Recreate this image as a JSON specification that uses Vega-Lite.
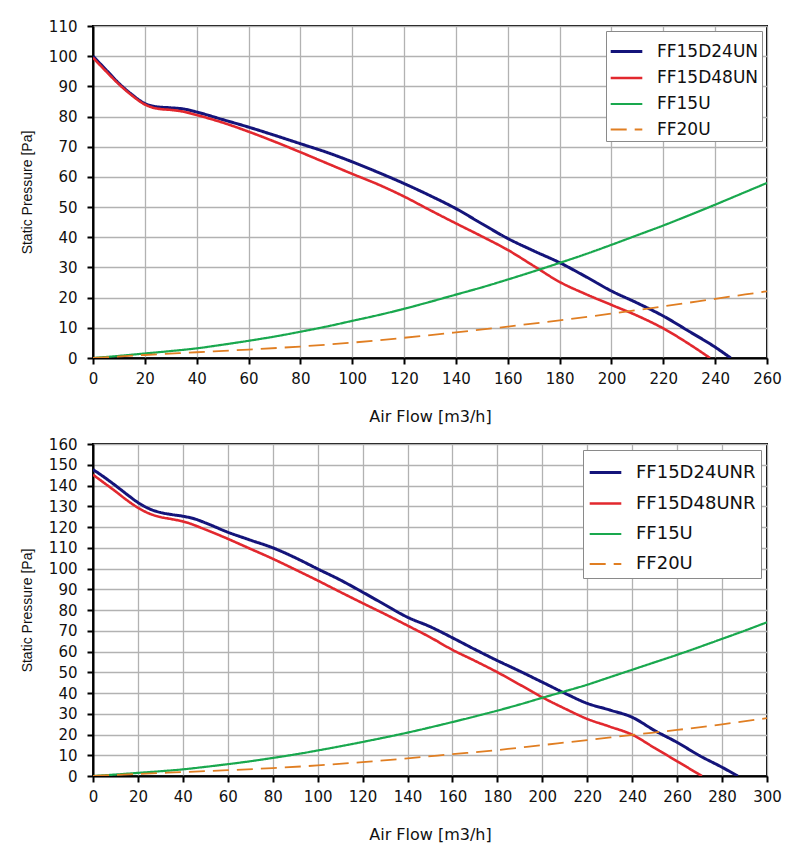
{
  "$schema": "https://vega.github.io/schema/vega-lite/v6.json",
  "background": "white",
  "padding": {"left": 19, "top": 18, "right": 0, "bottom": 0},
  "autosize": {"type": "pad"},
  "spacing": 11,
  "datasets": {
    "top": [
      {"flow": 0, "pressure": 100, "series": "FF15D24UN"},
      {"flow": 5, "pressure": 95.5, "series": "FF15D24UN"},
      {"flow": 10, "pressure": 91, "series": "FF15D24UN"},
      {"flow": 15, "pressure": 87.3, "series": "FF15D24UN"},
      {"flow": 20, "pressure": 84.3, "series": "FF15D24UN"},
      {"flow": 25, "pressure": 83.2, "series": "FF15D24UN"},
      {"flow": 30, "pressure": 82.9, "series": "FF15D24UN"},
      {"flow": 35, "pressure": 82.5, "series": "FF15D24UN"},
      {"flow": 40, "pressure": 81.5, "series": "FF15D24UN"},
      {"flow": 50, "pressure": 79, "series": "FF15D24UN"},
      {"flow": 60, "pressure": 76.5, "series": "FF15D24UN"},
      {"flow": 70, "pressure": 73.8, "series": "FF15D24UN"},
      {"flow": 80, "pressure": 71, "series": "FF15D24UN"},
      {"flow": 90, "pressure": 68.2, "series": "FF15D24UN"},
      {"flow": 100, "pressure": 65, "series": "FF15D24UN"},
      {"flow": 110, "pressure": 61.5, "series": "FF15D24UN"},
      {"flow": 120, "pressure": 57.8, "series": "FF15D24UN"},
      {"flow": 130, "pressure": 53.8, "series": "FF15D24UN"},
      {"flow": 140, "pressure": 49.5, "series": "FF15D24UN"},
      {"flow": 150, "pressure": 44.5, "series": "FF15D24UN"},
      {"flow": 160, "pressure": 39.6, "series": "FF15D24UN"},
      {"flow": 170, "pressure": 35.5, "series": "FF15D24UN"},
      {"flow": 180, "pressure": 31.6, "series": "FF15D24UN"},
      {"flow": 190, "pressure": 27, "series": "FF15D24UN"},
      {"flow": 200, "pressure": 22.2, "series": "FF15D24UN"},
      {"flow": 210, "pressure": 18.2, "series": "FF15D24UN"},
      {"flow": 220, "pressure": 13.9, "series": "FF15D24UN"},
      {"flow": 230, "pressure": 8.8, "series": "FF15D24UN"},
      {"flow": 240, "pressure": 3.6, "series": "FF15D24UN"},
      {"flow": 246, "pressure": 0, "series": "FF15D24UN"},
      {"flow": 0, "pressure": 99.5, "series": "FF15D48UN"},
      {"flow": 5, "pressure": 95, "series": "FF15D48UN"},
      {"flow": 10, "pressure": 90.7, "series": "FF15D48UN"},
      {"flow": 15, "pressure": 87, "series": "FF15D48UN"},
      {"flow": 20, "pressure": 84, "series": "FF15D48UN"},
      {"flow": 25, "pressure": 82.6, "series": "FF15D48UN"},
      {"flow": 30, "pressure": 82.2, "series": "FF15D48UN"},
      {"flow": 35, "pressure": 81.6, "series": "FF15D48UN"},
      {"flow": 40, "pressure": 80.5, "series": "FF15D48UN"},
      {"flow": 50, "pressure": 78, "series": "FF15D48UN"},
      {"flow": 60, "pressure": 75, "series": "FF15D48UN"},
      {"flow": 70, "pressure": 71.7, "series": "FF15D48UN"},
      {"flow": 80, "pressure": 68.2, "series": "FF15D48UN"},
      {"flow": 90, "pressure": 64.6, "series": "FF15D48UN"},
      {"flow": 100, "pressure": 61, "series": "FF15D48UN"},
      {"flow": 110, "pressure": 57.5, "series": "FF15D48UN"},
      {"flow": 120, "pressure": 53.5, "series": "FF15D48UN"},
      {"flow": 130, "pressure": 49, "series": "FF15D48UN"},
      {"flow": 140, "pressure": 44.6, "series": "FF15D48UN"},
      {"flow": 150, "pressure": 40.3, "series": "FF15D48UN"},
      {"flow": 160, "pressure": 35.8, "series": "FF15D48UN"},
      {"flow": 170, "pressure": 30.5, "series": "FF15D48UN"},
      {"flow": 180, "pressure": 25.2, "series": "FF15D48UN"},
      {"flow": 190, "pressure": 21.2, "series": "FF15D48UN"},
      {"flow": 200, "pressure": 17.6, "series": "FF15D48UN"},
      {"flow": 210, "pressure": 14, "series": "FF15D48UN"},
      {"flow": 220, "pressure": 9.8, "series": "FF15D48UN"},
      {"flow": 230, "pressure": 4.6, "series": "FF15D48UN"},
      {"flow": 238, "pressure": 0, "series": "FF15D48UN"},
      {"flow": 0, "pressure": 0, "series": "FF15U"},
      {"flow": 10, "pressure": 0.7, "series": "FF15U"},
      {"flow": 20, "pressure": 1.5, "series": "FF15U"},
      {"flow": 30, "pressure": 2.3, "series": "FF15U"},
      {"flow": 40, "pressure": 3.2, "series": "FF15U"},
      {"flow": 50, "pressure": 4.4, "series": "FF15U"},
      {"flow": 60, "pressure": 5.7, "series": "FF15U"},
      {"flow": 70, "pressure": 7.1, "series": "FF15U"},
      {"flow": 80, "pressure": 8.7, "series": "FF15U"},
      {"flow": 90, "pressure": 10.4, "series": "FF15U"},
      {"flow": 100, "pressure": 12.3, "series": "FF15U"},
      {"flow": 110, "pressure": 14.2, "series": "FF15U"},
      {"flow": 120, "pressure": 16.3, "series": "FF15U"},
      {"flow": 130, "pressure": 18.6, "series": "FF15U"},
      {"flow": 140, "pressure": 21, "series": "FF15U"},
      {"flow": 150, "pressure": 23.4, "series": "FF15U"},
      {"flow": 160, "pressure": 26, "series": "FF15U"},
      {"flow": 170, "pressure": 28.7, "series": "FF15U"},
      {"flow": 180, "pressure": 31.5, "series": "FF15U"},
      {"flow": 190, "pressure": 34.4, "series": "FF15U"},
      {"flow": 200, "pressure": 37.5, "series": "FF15U"},
      {"flow": 210, "pressure": 40.7, "series": "FF15U"},
      {"flow": 220, "pressure": 43.9, "series": "FF15U"},
      {"flow": 230, "pressure": 47.3, "series": "FF15U"},
      {"flow": 240, "pressure": 50.8, "series": "FF15U"},
      {"flow": 250, "pressure": 54.4, "series": "FF15U"},
      {"flow": 260, "pressure": 58, "series": "FF15U"},
      {"flow": 0, "pressure": 0, "series": "FF20U"},
      {"flow": 20, "pressure": 1, "series": "FF20U"},
      {"flow": 40, "pressure": 1.9, "series": "FF20U"},
      {"flow": 60, "pressure": 2.8, "series": "FF20U"},
      {"flow": 80, "pressure": 3.8, "series": "FF20U"},
      {"flow": 100, "pressure": 5.1, "series": "FF20U"},
      {"flow": 120, "pressure": 6.7, "series": "FF20U"},
      {"flow": 140, "pressure": 8.5, "series": "FF20U"},
      {"flow": 160, "pressure": 10.4, "series": "FF20U"},
      {"flow": 180, "pressure": 12.5, "series": "FF20U"},
      {"flow": 200, "pressure": 14.7, "series": "FF20U"},
      {"flow": 220, "pressure": 17.1, "series": "FF20U"},
      {"flow": 240, "pressure": 19.6, "series": "FF20U"},
      {"flow": 260, "pressure": 22.1, "series": "FF20U"}
    ],
    "bottom": [
      {"flow": 0, "pressure": 147.7, "series": "FF15D24UNR"},
      {"flow": 5, "pressure": 144, "series": "FF15D24UNR"},
      {"flow": 10, "pressure": 140, "series": "FF15D24UNR"},
      {"flow": 15, "pressure": 135.8, "series": "FF15D24UNR"},
      {"flow": 20, "pressure": 131.8, "series": "FF15D24UNR"},
      {"flow": 25, "pressure": 128.8, "series": "FF15D24UNR"},
      {"flow": 30, "pressure": 127, "series": "FF15D24UNR"},
      {"flow": 35, "pressure": 126, "series": "FF15D24UNR"},
      {"flow": 40, "pressure": 125.2, "series": "FF15D24UNR"},
      {"flow": 45, "pressure": 124, "series": "FF15D24UNR"},
      {"flow": 50, "pressure": 122, "series": "FF15D24UNR"},
      {"flow": 60, "pressure": 117.5, "series": "FF15D24UNR"},
      {"flow": 70, "pressure": 113.7, "series": "FF15D24UNR"},
      {"flow": 80, "pressure": 110, "series": "FF15D24UNR"},
      {"flow": 90, "pressure": 105.2, "series": "FF15D24UNR"},
      {"flow": 100, "pressure": 99.8, "series": "FF15D24UNR"},
      {"flow": 110, "pressure": 94.5, "series": "FF15D24UNR"},
      {"flow": 120, "pressure": 88.6, "series": "FF15D24UNR"},
      {"flow": 130, "pressure": 82.5, "series": "FF15D24UNR"},
      {"flow": 140, "pressure": 76.5, "series": "FF15D24UNR"},
      {"flow": 150, "pressure": 72, "series": "FF15D24UNR"},
      {"flow": 160, "pressure": 66.6, "series": "FF15D24UNR"},
      {"flow": 170, "pressure": 61, "series": "FF15D24UNR"},
      {"flow": 180, "pressure": 55.6, "series": "FF15D24UNR"},
      {"flow": 190, "pressure": 50.5, "series": "FF15D24UNR"},
      {"flow": 200, "pressure": 45.2, "series": "FF15D24UNR"},
      {"flow": 210, "pressure": 39.9, "series": "FF15D24UNR"},
      {"flow": 220, "pressure": 35, "series": "FF15D24UNR"},
      {"flow": 230, "pressure": 31.8, "series": "FF15D24UNR"},
      {"flow": 240, "pressure": 28.3, "series": "FF15D24UNR"},
      {"flow": 250, "pressure": 21.9, "series": "FF15D24UNR"},
      {"flow": 260, "pressure": 16.2, "series": "FF15D24UNR"},
      {"flow": 270, "pressure": 9.8, "series": "FF15D24UNR"},
      {"flow": 280, "pressure": 4.2, "series": "FF15D24UNR"},
      {"flow": 287, "pressure": 0, "series": "FF15D24UNR"},
      {"flow": 0, "pressure": 145.2, "series": "FF15D48UNR"},
      {"flow": 5, "pressure": 141.2, "series": "FF15D48UNR"},
      {"flow": 10, "pressure": 137.2, "series": "FF15D48UNR"},
      {"flow": 15, "pressure": 133, "series": "FF15D48UNR"},
      {"flow": 20, "pressure": 129.3, "series": "FF15D48UNR"},
      {"flow": 25, "pressure": 126.5, "series": "FF15D48UNR"},
      {"flow": 30, "pressure": 124.8, "series": "FF15D48UNR"},
      {"flow": 35, "pressure": 123.8, "series": "FF15D48UNR"},
      {"flow": 40, "pressure": 122.7, "series": "FF15D48UNR"},
      {"flow": 50, "pressure": 118.8, "series": "FF15D48UNR"},
      {"flow": 60, "pressure": 114.3, "series": "FF15D48UNR"},
      {"flow": 70, "pressure": 109.5, "series": "FF15D48UNR"},
      {"flow": 80, "pressure": 104.7, "series": "FF15D48UNR"},
      {"flow": 90, "pressure": 99.5, "series": "FF15D48UNR"},
      {"flow": 100, "pressure": 94.2, "series": "FF15D48UNR"},
      {"flow": 110, "pressure": 88.7, "series": "FF15D48UNR"},
      {"flow": 120, "pressure": 83.3, "series": "FF15D48UNR"},
      {"flow": 130, "pressure": 78, "series": "FF15D48UNR"},
      {"flow": 140, "pressure": 72.5, "series": "FF15D48UNR"},
      {"flow": 150, "pressure": 66.9, "series": "FF15D48UNR"},
      {"flow": 160, "pressure": 60.8, "series": "FF15D48UNR"},
      {"flow": 170, "pressure": 55.5, "series": "FF15D48UNR"},
      {"flow": 180, "pressure": 50, "series": "FF15D48UNR"},
      {"flow": 190, "pressure": 44, "series": "FF15D48UNR"},
      {"flow": 200, "pressure": 37.9, "series": "FF15D48UNR"},
      {"flow": 210, "pressure": 32.5, "series": "FF15D48UNR"},
      {"flow": 220, "pressure": 27.5, "series": "FF15D48UNR"},
      {"flow": 230, "pressure": 23.8, "series": "FF15D48UNR"},
      {"flow": 240, "pressure": 19.9, "series": "FF15D48UNR"},
      {"flow": 250, "pressure": 13.5, "series": "FF15D48UNR"},
      {"flow": 260, "pressure": 7.1, "series": "FF15D48UNR"},
      {"flow": 271, "pressure": 0, "series": "FF15D48UNR"},
      {"flow": 0, "pressure": 0, "series": "FF15U"},
      {"flow": 10, "pressure": 0.7, "series": "FF15U"},
      {"flow": 20, "pressure": 1.5, "series": "FF15U"},
      {"flow": 30, "pressure": 2.3, "series": "FF15U"},
      {"flow": 40, "pressure": 3.2, "series": "FF15U"},
      {"flow": 50, "pressure": 4.4, "series": "FF15U"},
      {"flow": 60, "pressure": 5.7, "series": "FF15U"},
      {"flow": 70, "pressure": 7.1, "series": "FF15U"},
      {"flow": 80, "pressure": 8.7, "series": "FF15U"},
      {"flow": 90, "pressure": 10.4, "series": "FF15U"},
      {"flow": 100, "pressure": 12.3, "series": "FF15U"},
      {"flow": 110, "pressure": 14.3, "series": "FF15U"},
      {"flow": 120, "pressure": 16.4, "series": "FF15U"},
      {"flow": 130, "pressure": 18.6, "series": "FF15U"},
      {"flow": 140, "pressure": 20.9, "series": "FF15U"},
      {"flow": 150, "pressure": 23.4, "series": "FF15U"},
      {"flow": 160, "pressure": 26, "series": "FF15U"},
      {"flow": 170, "pressure": 28.7, "series": "FF15U"},
      {"flow": 180, "pressure": 31.5, "series": "FF15U"},
      {"flow": 190, "pressure": 34.5, "series": "FF15U"},
      {"flow": 200, "pressure": 37.7, "series": "FF15U"},
      {"flow": 210, "pressure": 40.8, "series": "FF15U"},
      {"flow": 220, "pressure": 44, "series": "FF15U"},
      {"flow": 230, "pressure": 47.6, "series": "FF15U"},
      {"flow": 240, "pressure": 51.2, "series": "FF15U"},
      {"flow": 250, "pressure": 54.8, "series": "FF15U"},
      {"flow": 260, "pressure": 58.4, "series": "FF15U"},
      {"flow": 270, "pressure": 62.2, "series": "FF15U"},
      {"flow": 280, "pressure": 66.1, "series": "FF15U"},
      {"flow": 290, "pressure": 70, "series": "FF15U"},
      {"flow": 300, "pressure": 74.1, "series": "FF15U"},
      {"flow": 0, "pressure": 0, "series": "FF20U"},
      {"flow": 20, "pressure": 1, "series": "FF20U"},
      {"flow": 40, "pressure": 1.9, "series": "FF20U"},
      {"flow": 60, "pressure": 2.8, "series": "FF20U"},
      {"flow": 80, "pressure": 3.8, "series": "FF20U"},
      {"flow": 100, "pressure": 5.1, "series": "FF20U"},
      {"flow": 120, "pressure": 6.7, "series": "FF20U"},
      {"flow": 140, "pressure": 8.5, "series": "FF20U"},
      {"flow": 160, "pressure": 10.5, "series": "FF20U"},
      {"flow": 180, "pressure": 12.5, "series": "FF20U"},
      {"flow": 200, "pressure": 14.9, "series": "FF20U"},
      {"flow": 220, "pressure": 17.3, "series": "FF20U"},
      {"flow": 240, "pressure": 19.8, "series": "FF20U"},
      {"flow": 260, "pressure": 22.2, "series": "FF20U"},
      {"flow": 280, "pressure": 24.9, "series": "FF20U"},
      {"flow": 300, "pressure": 27.9, "series": "FF20U"}
    ]
  },
  "vconcat": [
    {
      "width": 674,
      "height": 332,
      "data": {"name": "top"},
      "mark": {"type": "line", "interpolate": "monotone", "clip": true},
      "encoding": {
        "x": {"field": "flow", "type": "quantitative", "scale": {"domain": [0, 260], "nice": false},
              "axis": {"values": [0, 20, 40, 60, 80, 100, 120, 140, 160, 180, 200, 220, 240, 260], "title": "Air Flow [m3/h]"}},
        "y": {"field": "pressure", "type": "quantitative", "scale": {"domain": [0, 110], "nice": false},
              "axis": {"values": [0, 10, 20, 30, 40, 50, 60, 70, 80, 90, 100, 110], "title": "Static Pressure [Pa]"}},
        "color": {"field": "series", "type": "nominal",
                  "scale": {"domain": ["FF15D24UN", "FF15D48UN", "FF15U", "FF20U"], "range": ["#14147a", "#e2282e", "#19a84e", "#e07e22"]},
                  "legend": {"title": null, "orient": "top-right", "offset": 5, "rowPadding": 0.5, "padding": 3, "labelFontSize": 17}},
        "strokeDash": {"field": "series", "type": "nominal",
                  "scale": {"domain": ["FF15D24UN", "FF15D48UN", "FF15U", "FF20U"], "range": [[1, 0], [1, 0], [1, 0], [16, 8]]},
                  "legend": {"title": null, "orient": "top-right", "offset": 5, "rowPadding": 0.5, "padding": 3, "labelFontSize": 17}},
        "strokeWidth": {"field": "series", "type": "nominal",
                  "scale": {"domain": ["FF15D24UN", "FF15D48UN", "FF15U", "FF20U"], "range": [3, 1.8, 3, 2.6]},
                  "legend": {"title": null, "orient": "top-right", "offset": 5, "rowPadding": 0.5, "padding": 3, "labelFontSize": 17}}
      }
    },
    {
      "width": 674,
      "height": 332,
      "data": {"name": "bottom"},
      "mark": {"type": "line", "interpolate": "monotone", "clip": true},
      "encoding": {
        "x": {"field": "flow", "type": "quantitative", "scale": {"domain": [0, 300], "nice": false},
              "axis": {"values": [0, 20, 40, 60, 80, 100, 120, 140, 160, 180, 200, 220, 240, 260, 280, 300], "title": "Air Flow [m3/h]"}},
        "y": {"field": "pressure", "type": "quantitative", "scale": {"domain": [0, 160], "nice": false},
              "axis": {"values": [0, 10, 20, 30, 40, 50, 60, 70, 80, 90, 100, 110, 120, 130, 140, 150, 160], "title": "Static Pressure [Pa]"}},
        "color": {"field": "series", "type": "nominal",
                  "scale": {"domain": ["FF15D24UNR", "FF15D48UNR", "FF15U", "FF20U"], "range": ["#14147a", "#e2282e", "#19a84e", "#e07e22"]},
                  "legend": {"title": null, "orient": "top-right", "offset": 6, "rowPadding": 4, "padding": 5, "labelFontSize": 18}},
        "strokeDash": {"field": "series", "type": "nominal",
                  "scale": {"domain": ["FF15D24UNR", "FF15D48UNR", "FF15U", "FF20U"], "range": [[1, 0], [1, 0], [1, 0], [16, 8]]},
                  "legend": {"title": null, "orient": "top-right", "offset": 6, "rowPadding": 4, "padding": 5, "labelFontSize": 18}},
        "strokeWidth": {"field": "series", "type": "nominal",
                  "scale": {"domain": ["FF15D24UNR", "FF15D48UNR", "FF15U", "FF20U"], "range": [3, 1.8, 3, 2.6]},
                  "legend": {"title": null, "orient": "top-right", "offset": 6, "rowPadding": 4, "padding": 5, "labelFontSize": 18}}
      }
    }
  ],
  "resolve": {"scale": {"color": "independent", "strokeDash": "independent", "strokeWidth": "independent"}, "legend": {"color": "independent", "strokeDash": "independent", "strokeWidth": "independent"}},
  "config": {
    "view": {"stroke": "#000000", "strokeWidth": 2},
    "axis": {
      "grid": true,
      "gridColor": "#b2b2b2",
      "gridWidth": 1.3,
      "domainColor": "#000000",
      "domainWidth": 2,
      "tickColor": "#000000",
      "tickWidth": 2,
      "tickSize": 6,
      "labelFont": "DejaVu Sans",
      "labelFontSize": 15,
      "labelColor": "#111111",
      "labelFlush": false,
      "labelOverlap": false,
      "titleFont": "Liberation Sans",
      "titleFontSize": 14,
      "titleFontWeight": "normal",
      "titleColor": "#111111"
    },
    "axisX": {"labelPadding": 7, "titlePadding": 22, "titleFont": "DejaVu Sans", "titleFontSize": 16},
    "axisY": {"labelPadding": 10, "titlePadding": 14},
    "legend": {
      "fillColor": "#ffffff",
      "strokeColor": "#8a8a8a",
      "symbolType": "stroke",
      "symbolSize": 1000,
      "labelFont": "DejaVu Sans",
      "labelColor": "#111111",
      "labelOffset": 13,
      "labelLimit": 300
    }
  }
}
